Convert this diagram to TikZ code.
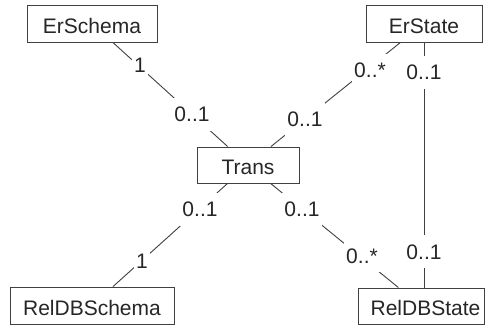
\documentclass[tikz,border=0pt]{standalone}
\usepackage{fontspec}
\setmainfont{Liberation Sans}
\begin{document}
\begin{tikzpicture}[x=1pt,y=-1pt,
  every node/.style={font=\fontsize{21}{25}\selectfont, text=black!85},
  cls/.style={draw=black!75, line width=0.9pt, inner sep=0pt, text height=19.5pt, text depth=0pt},
  lab/.style={fill=white, inner xsep=2pt, inner ysep=9pt, anchor=base},
  assoc/.style={draw=black!75, line width=0.9pt}]
\useasboundingbox (0,0) rectangle (485,326);
% classes
\node[cls, minimum width=130pt, minimum height=37pt] (ErSchema) at (92,23.5) {ErSchema};
\node[cls, minimum width=116pt, minimum height=37pt] (ErState) at (424,23.5) {ErState};
\node[cls, minimum width=102pt, minimum height=36pt] (Trans) at (248,165) {Trans};
\node[cls, minimum width=164pt, minimum height=37pt] (RelDBSchema) at (92,305.5) {RelDBSchema};
\node[cls, minimum width=126pt, minimum height=36pt] (RelDBState) at (421,306) {\hspace*{9pt}RelDBState};
% associations
\draw[assoc] (ErSchema) -- (Trans);
\draw[assoc] (ErState) -- (Trans);
\draw[assoc] (RelDBSchema) -- (Trans);
\draw[assoc] (RelDBState) -- (Trans);
\coordinate (vEnd) at (ErState.south |- RelDBState.north);
\draw[assoc] (ErState.south) -- (vEnd);
% multiplicities
\node[lab] (l1) at (140,73) {1};
\node[lab] (l2) at (192,122) {0..1};
\node[lab] (l3) at (370,78) {0..*};
\node[lab] (l4) at (305,127) {0..1};
\node[lab] (l5) at (424,80) {0..1};
\node[lab] (l6) at (424,259) {0..1};
\node[lab] (l7) at (200,217) {0..1};
\node[lab] (l8) at (142,269) {1};
\node[lab] (l9) at (302,217) {0..1};
\node[lab] (l10) at (362,263) {0..*};
\end{tikzpicture}
\end{document}
